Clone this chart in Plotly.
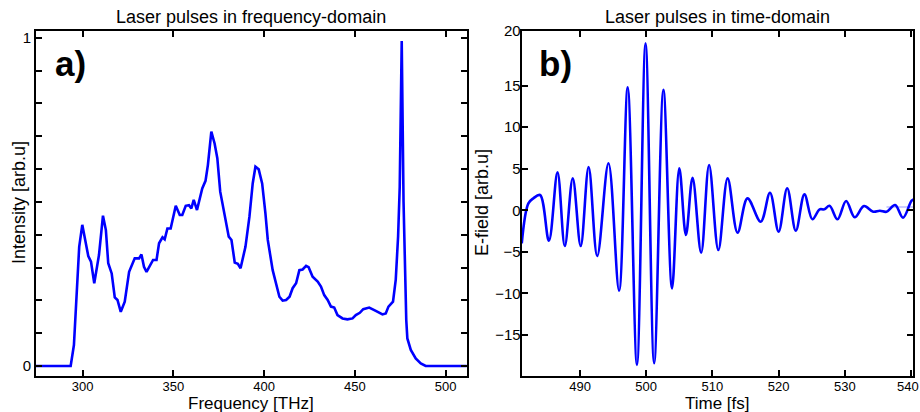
import plotly.graph_objects as go

# ---- Panel a) : spectrum ----
freq_thz = [274, 293.4, 295.2, 298.1, 299.8, 303.1, 304.6, 306.4, 309.0, 311.2, 312.8, 314.1,
            316.0, 317.7, 319.2, 321.0, 323.2, 325.6, 328.7, 331.1, 332.4, 333.8, 335.2,
            338.8, 340.7, 342.1, 344.0, 345.2, 346.7, 348.5, 351.3, 353.5, 354.9, 356.8,
            358.6, 359.9, 361.2, 363.0, 365.9, 367.7, 369.0, 370.9, 372.7, 374.2, 375.8,
            377.6, 379.1, 380.5, 382.0, 383.8, 385.5, 387.0, 389.7, 391.9, 393.7, 395.2,
            397.0, 398.9, 400.7, 402.0, 404.7, 406.6, 408.4, 410.2, 412.1, 414.0, 415.7,
            417.6, 419.4, 421.2, 423.1, 424.5, 426.7, 429.5, 431.3, 433.1, 435.0, 436.8,
            438.6, 440.4, 443.2, 445.9, 448.7, 450.5, 452.7, 454.6, 457.9, 461.5, 465.2,
            467.0, 468.5, 471.0, 472.5, 473.8, 474.7, 475.8, 476.8, 478.3, 478.9, 480.8,
            483.5, 486.3, 489.0, 512]
intensity = [0, 0, 0.064, 0.363, 0.43, 0.335, 0.318, 0.252, 0.338, 0.458, 0.414, 0.313,
             0.282, 0.209, 0.201, 0.165, 0.196, 0.287, 0.328, 0.328, 0.340, 0.302, 0.287,
             0.323, 0.323, 0.374, 0.392, 0.386, 0.419, 0.419, 0.488, 0.460, 0.460, 0.488,
             0.490, 0.480, 0.506, 0.475, 0.541, 0.564, 0.612, 0.714, 0.678, 0.633, 0.531,
             0.475, 0.430, 0.394, 0.384, 0.315, 0.311, 0.298, 0.363, 0.455, 0.556, 0.607,
             0.599, 0.556, 0.465, 0.384, 0.292, 0.252, 0.211, 0.199, 0.201, 0.211, 0.237,
             0.252, 0.292, 0.294, 0.305, 0.301, 0.272, 0.257, 0.242, 0.216, 0.201, 0.181,
             0.178, 0.155, 0.145, 0.142, 0.145, 0.155, 0.162, 0.173, 0.178, 0.168, 0.157,
             0.160, 0.181, 0.196, 0.262, 0.394, 0.546, 0.99, 0.50, 0.14, 0.084, 0.049,
             0.023, 0.008, 0, 0]

# ---- Panel b) : time-domain field (extrema read from picture) ----
time_fs = [481.2, 482.2, 482.95, 483.96, 485.3, 486.6, 487.7, 488.9, 490.1, 491.3, 492.6,
           494.3, 495.9, 497.2, 498.6, 499.9, 501.2, 502.6, 503.9, 505.0, 506.0, 507.0,
           508.3, 509.5, 510.9, 512.3, 513.8, 515.3, 517.3, 518.7, 520.0, 521.3, 522.6,
           523.9, 525.1, 526.2, 526.9, 527.7, 528.9, 530.2, 531.5, 532.9, 534.3, 535.3,
           536.3, 537.6, 538.8, 540.1, 540.6]
efield = [-3.97, 0.84, 1.44, 1.84, -3.66, 4.57, -4.3, 3.85, -4.3, 5.21, -5.5,
          5.66, -9.67, 14.8, -18.6, 20.1, -18.4, 14.5, -9.39, 5.05, -2.97, 3.92,
          -5.1, 5.45, -4.78, 3.85, -2.69, 1.44, -1.37, 2.12, -2.57, 2.65, -2.45,
          1.92, -1.08, 0.12, 0.12, 0.55, -1.08, 1.12, -0.84, 0.52, -0.17, -0.05,
          -0.17, 0.64, -0.89, 1.16, 1.4]
ref_t = [536.3, 540.6]
ref_e = [0.4, 0.4]

x_ticks_a = [300, 350, 400, 450, 500]
y_ticks_a = [0, 0.1, 0.2, 0.3, 0.4, 0.5, 0.6, 0.7, 0.8, 0.9, 1.0]
y_text_a = ["0", "", "", "", "", "", "", "", "", "", "1"]
x_ticks_b = [490, 500, 510, 520, 530, 540]
x_text_b = ["490", "500", "510", "520", "530", ""]
edge_label_b = "540"
y_ticks_b = [-15, -10, -5, 0, 5, 10, 15, 21.58]
y_text_b = ["\u221215", "\u221210", "\u22125", "0", "5", "10", "15", "20"]

FONT = "Liberation Sans, Arial, sans-serif"
W, H = 920, 412

fig = go.Figure()
fig.add_trace(go.Scatter(x=freq_thz, y=intensity, mode="lines",
                         line=dict(color="#0000ff", width=2.6), xaxis="x", yaxis="y",
                         showlegend=False, hoverinfo="skip"))
fig.add_trace(go.Scatter(x=ref_t, y=ref_e, mode="lines",
                         line=dict(color="#9a9aff", width=1), xaxis="x2", yaxis="y2",
                         showlegend=False, hoverinfo="skip"))
fig.add_trace(go.Scatter(x=time_fs, y=efield, mode="lines",
                         line=dict(color="#0000ff", width=2.6, shape="spline", smoothing=1.0),
                         xaxis="x2", yaxis="y2", showlegend=False, hoverinfo="skip"))

def px_x(p):
    return p / W

def px_y(p):
    return 1 - p / H

common = dict(showline=True, linecolor="black", linewidth=2, mirror="ticks",
              ticks="inside", ticklen=6, tickwidth=1.5, tickcolor="black",
              showgrid=False, zeroline=False, ticklabeloverflow="allow", automargin=False)

fig.update_layout(
    width=W, height=H, margin=dict(l=0, r=0, t=0, b=0, autoexpand=False),
    paper_bgcolor="white", plot_bgcolor="white",
    font=dict(family=FONT, color="black"),
    xaxis=dict(domain=[px_x(36), px_x(466.7)], range=[274.3, 511.6], anchor="y",
               tickvals=x_ticks_a, tickfont=dict(size=13), ticklabelstandoff=-2, **common),
    yaxis=dict(domain=[px_y(375.7), px_y(31)], range=[-0.0295, 1.0204], anchor="x",
               tickvals=y_ticks_a, ticktext=y_text_a, tickfont=dict(size=15), **common),
    xaxis2=dict(domain=[px_x(521.7), px_x(913.3)], range=[481.19, 540.35], anchor="y2",
                tickvals=x_ticks_b, ticktext=x_text_b, tickfont=dict(size=13),
                ticklabelstandoff=-2, **common),
    yaxis2=dict(domain=[px_y(375.7), px_y(31)], range=[-19.9, 21.58], anchor="x2",
                tickvals=y_ticks_b, ticktext=y_text_b, tickfont=dict(size=15),
                ticklabelstandoff=-4, **common),
)

annots = [
    dict(text="Laser pulses in frequency-domain", x=px_x(251), y=px_y(17), size=18),
    dict(text="Laser pulses in time-domain", x=px_x(717), y=px_y(17), size=18),
    dict(text="Frequency [THz]", x=px_x(251), y=px_y(403), size=17),
    dict(text="Time [fs]", x=px_x(717), y=px_y(403), size=17),
    dict(text="Intensity [arb.u]", x=px_x(19), y=px_y(203), size=18, angle=-90),
    dict(text="E-field [arb.u]", x=px_x(482), y=px_y(203), size=18, angle=-90),
    dict(text="<b>a)</b>", x=px_x(70), y=px_y(64), size=35),
    dict(text="<b>b)</b>", x=px_x(555), y=px_y(63), size=35),
    dict(text=edge_label_b, x=px_x(919.5), y=px_y(386.5), size=13, xanchor="right"),
]
for a in annots:
    fig.add_annotation(text=a["text"], x=a["x"], y=a["y"], xref="paper", yref="paper",
                       xanchor=a.get("xanchor", "center"), yanchor="middle", showarrow=False,
                       textangle=a.get("angle", 0), borderpad=0,
                       font=dict(family=FONT, size=a["size"], color="black"))

fig.write_html("out.html")
